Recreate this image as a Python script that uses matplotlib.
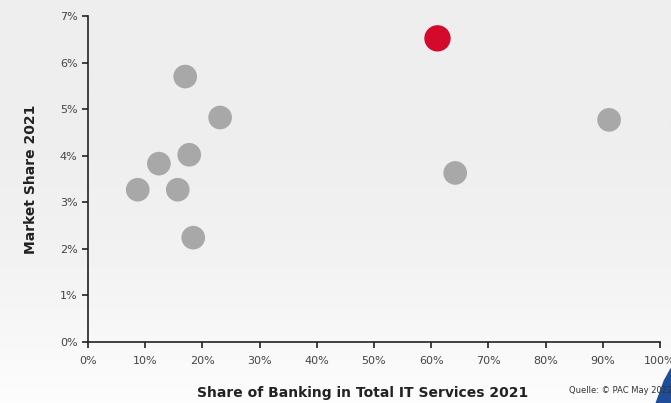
import numpy as np
import matplotlib.pyplot as plt
from matplotlib.patches import Polygon

# Share of banking in total IT services 2021 (%) vs market share 2021 (%)
banking_share = [17.0, 23.1, 17.7, 12.4, 8.7, 15.7, 18.4, 64.2, 91.1]
market_share = [5.70, 4.82, 4.02, 3.83, 3.27, 3.27, 2.24, 3.63, 4.77]

highlight_x = [61.1]
highlight_y = [6.52]

x_ticks = list(range(0, 101, 10))
y_ticks = list(range(0, 8))

fig = plt.figure(figsize=(6.71, 4.03), dpi=100)
fig.patch.set_facecolor("#f1f1f2")

# light background gradient, fading to white at the bottom
bg = fig.add_axes([0, 0, 1, 1], zorder=-10)
grad = np.linspace(0, 1, 256).reshape(-1, 1)
bg.imshow(grad, aspect="auto", cmap=plt.matplotlib.colors.LinearSegmentedColormap.from_list(
    "bg", ["#fdfdfd", "#f3f3f4", "#eeeeef", "#eeeeef"]), extent=[0, 1, 0, 1], origin="lower")
bg.axis("off")

ax = fig.add_axes([0.1311, 0.1514, 0.8525, 0.8089])
ax.patch.set_alpha(0)

ax.scatter(banking_share, market_share, s=290, color="#a8a8a8", edgecolors="none", zorder=3)
ax.scatter(highlight_x, highlight_y, s=360, color="#d40a2c", edgecolors="none", zorder=4)

ax.set_xlim(0, 100)
ax.set_ylim(0, 7)
ax.set_xticks(x_ticks)
ax.set_xticklabels([f"{v}%" for v in x_ticks])
ax.set_yticks(y_ticks)
ax.set_yticklabels([f"{v}%" for v in y_ticks])

for s in ["top", "right"]:
    ax.spines[s].set_visible(False)
for s in ["left", "bottom"]:
    ax.spines[s].set_color("#222222")
    ax.spines[s].set_linewidth(1.2)
ax.tick_params(axis="both", colors="#222222", labelcolor="#444444", labelsize=8,
               length=4, width=1.2)
ax.tick_params(axis="x", pad=6)

ax.set_ylabel("Market Share 2021", fontsize=10, fontweight="bold", color="#222222", labelpad=16)
fig.text(0.54, 0.025, "Share of Banking in Total IT Services 2021", ha="center", va="center",
         fontsize=10, fontweight="bold", color="#222222")
fig.text(0.848, 0.03, "Quelle: © PAC May 2022", ha="left", va="center", fontsize=6,
         color="#333333")

# blue corner shape at bottom right
bg.add_patch(Polygon([[0.978, 0.0], [0.99, 0.055], [1.0, 0.085], [1.0, 0.0]],
                     closed=True, color="#1f4e96", transform=bg.transAxes, zorder=5))

fig.savefig("out.png", dpi=100, facecolor=fig.get_facecolor())
